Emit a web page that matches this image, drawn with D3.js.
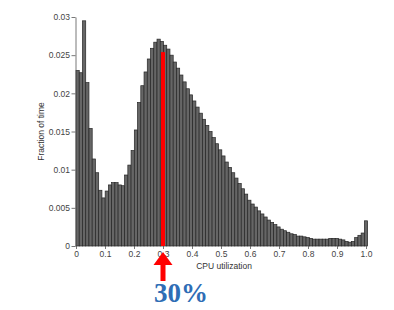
<!DOCTYPE html>
<html>
<head>
<meta charset="utf-8">
<script src="https://cdn.jsdelivr.net/npm/d3@7"></script>
<style>
  body { margin: 0; background: #fff; }
  svg { display: block; }
  .axis text { font-family: "Liberation Sans", Arial, sans-serif; font-size: 8.5px; fill: #444; }
  .axis path, .axis line { stroke: #555; stroke-width: 0.8; }
</style>
</head>
<body>
<div id="chart"></div>
<script>
// histogram of average CPU utilization (90 bins from 0 to 1.0)
const fractions = [
  0.0230, 0.0227, 0.0295, 0.0214, 0.0154, 0.0114, 0.0096, 0.0073, 0.0063, 0.0072,
  0.0080, 0.0083, 0.0083, 0.0080, 0.0079, 0.0093, 0.0106, 0.0125, 0.0152, 0.0188,
  0.0210, 0.0228, 0.0245, 0.0259, 0.0267, 0.0271, 0.0268, 0.0263, 0.0258, 0.0250,
  0.0241, 0.0233, 0.0224, 0.0215, 0.0206, 0.0198, 0.0190, 0.0182, 0.0174, 0.0166,
  0.0158, 0.0150, 0.0142, 0.0134, 0.0126, 0.0118, 0.0110, 0.0103, 0.0096, 0.0089,
  0.0082, 0.0075, 0.0068, 0.0060, 0.0055, 0.0051, 0.0046, 0.0042, 0.0038, 0.0034,
  0.0031, 0.0028, 0.0025, 0.0022, 0.0020, 0.0018, 0.0016, 0.0015, 0.0013, 0.0013,
  0.0012, 0.0011, 0.0010, 0.0009, 0.0009, 0.0009, 0.0009, 0.0009, 0.0010, 0.0010,
  0.0010, 0.0009, 0.0008, 0.0006, 0.0005, 0.0006, 0.0011, 0.0014, 0.0017, 0.0033
];
// last bin is centred on 1.0
const binWidth = 1 / (fractions.length - 0.5);

const xTicks = [0, 0.1, 0.2, 0.3, 0.4, 0.5, 0.6, 0.7, 0.8, 0.9, 1.0];
const xTickLabels = ['0', '0.1', '0.2', '0.3', '0.4', '0.5', '0.6', '0.7', '0.8', '0.9', '1.0'];
const yTicks = [0, 0.005, 0.01, 0.015, 0.02, 0.025, 0.03];
const yTickLabels = ['0', '0.005', '0.01', '0.015', '0.02', '0.025', '0.03'];

// annotation
const markerX = 0.30;
const markerTop = 0.0254;
const markerLabel = '30%';

const width = 394, height = 310;
const margin = { top: 17, right: 28, bottom: 64, left: 76 };

const svg = d3.select('#chart').append('svg')
  .attr('width', width)
  .attr('height', height);

const x = d3.scaleLinear()
  .domain([0, 1])
  .range([margin.left, width - margin.right]);
const y = d3.scaleLinear()
  .domain([0, 0.03])
  .range([height - margin.bottom, margin.top]);

// bars
svg.append('g')
  .selectAll('rect')
  .data(fractions)
  .join('rect')
  .attr('x', (d, i) => x(i * binWidth))
  .attr('width', x(binWidth) - x(0))
  .attr('y', d => y(d))
  .attr('height', d => y(0) - y(d))
  .attr('fill', '#666')
  .attr('stroke', '#262626')
  .attr('stroke-width', 0.7);

// axes
svg.append('g')
  .attr('class', 'axis')
  .attr('transform', `translate(0,${y(0)})`)
  .call(d3.axisBottom(x).tickValues(xTicks).tickSize(3).tickPadding(2)
    .tickFormat((d, i) => xTickLabels[i]))
  .call(g => g.select('.domain').remove());

svg.append('g')
  .attr('class', 'axis')
  .attr('transform', `translate(${x(0) - 0.5},0)`)
  .call(d3.axisLeft(y).tickValues(yTicks).tickSize(4).tickPadding(1.5).tickSizeOuter(0)
    .tickFormat((d, i) => yTickLabels[i]));

// axis titles
svg.append('text')
  .attr('x', 224)
  .attr('y', y(0) + 23)
  .attr('text-anchor', 'middle')
  .style('font-family', '"Liberation Sans", Arial, sans-serif')
  .style('font-size', '8.5px')
  .style('fill', '#333')
  .text('CPU utilization');

svg.append('text')
  .attr('transform', `translate(44,${(y(0) + y(0.03)) / 2}) rotate(-90)`)
  .attr('text-anchor', 'middle')
  .style('font-family', '"Liberation Sans", Arial, sans-serif')
  .style('font-size', '8.5px')
  .style('fill', '#333')
  .text('Fraction of time');

// red marker line at 30%
const mx = x(markerX);
svg.append('rect')
  .attr('x', mx - 2)
  .attr('width', 4)
  .attr('y', y(markerTop))
  .attr('height', y(0) - y(markerTop))
  .attr('fill', '#ff0000');

// red arrow under the axis
const tipY = y(0) + 6;
svg.append('rect')
  .attr('x', mx - 2.5)
  .attr('width', 5)
  .attr('y', tipY + 10)
  .attr('height', 19)
  .attr('fill', '#ff0000');
svg.append('path')
  .attr('d', `M${mx},${tipY} L${mx + 9.5},${tipY + 13} L${mx - 9.5},${tipY + 13} Z`)
  .attr('fill', '#ff0000');

svg.append('text')
  .attr('x', mx + 18)
  .attr('y', 302)
  .attr('text-anchor', 'middle')
  .style('font-family', '"Liberation Serif", "Times New Roman", serif')
  .style('font-weight', 'bold')
  .style('font-size', '27px')
  .style('fill', '#2f6db5')
  .text(markerLabel);
</script>
</body>
</html>
